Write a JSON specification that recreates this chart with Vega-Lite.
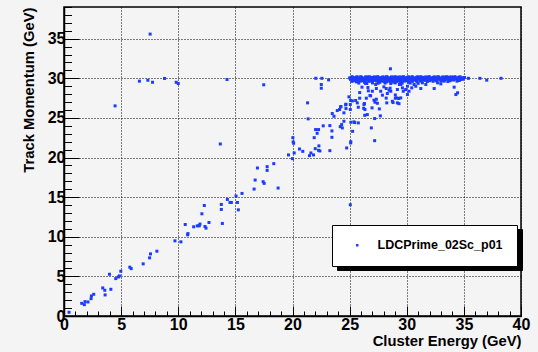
{
"$schema": "https://vega.github.io/schema/vega-lite/v6.json",
"width": 457, "height": 309,
"autosize": "none",
"padding": {"left": 64, "top": 7, "right": 17, "bottom": 36},
"background": "#f4f4f4",
"config": {"view": {"stroke": "black", "strokeWidth": 1.5, "fill": null}, "font": "Liberation Sans"},
"data": {"values": [
{"E":0.44,"P":0.47},{"E":1.55,"P":1.6},{"E":1.78,"P":1.43},{"E":1.84,"P":1.81},{"E":2.1,"P":1.77},{"E":2.37,"P":2.19},{"E":2.4,"P":2.53},{"E":2.6,"P":2.74},{"E":3.39,"P":3.54},{"E":3.57,"P":3.25},{"E":3.6,"P":2.66},{"E":3.98,"P":5.27},{"E":4.1,"P":3.37},{"E":4.53,"P":4.72},{"E":4.77,"P":4.93},{"E":4.85,"P":5.06},{"E":4.97,"P":5.65},{"E":5.76,"P":6.16},{"E":5.88,"P":5.98},{"E":6.93,"P":6.58},{"E":7.49,"P":7.34},{"E":7.57,"P":7.84},{"E":8.13,"P":8.18},{"E":9.71,"P":9.49},{"E":10.23,"P":9.36},{"E":10.61,"P":11.55},{"E":10.82,"P":10.25},{"E":10.85,"P":10.4},{"E":11.35,"P":11.26},{"E":11.67,"P":11.38},{"E":11.84,"P":11.38},{"E":11.9,"P":11.6},{"E":12.07,"P":12.9},{"E":12.28,"P":13.95},{"E":12.34,"P":11.3},{"E":12.43,"P":11.09},{"E":12.69,"P":11.8},{"E":13.77,"P":14.08},{"E":13.77,"P":13.45},{"E":13.86,"P":11.68},{"E":14.3,"P":14.71},{"E":14.53,"P":14.33},{"E":14.65,"P":14.33},{"E":15.06,"P":15.14},{"E":15.18,"P":14.33},{"E":15.26,"P":13.4},{"E":15.58,"P":15.47},{"E":13.68,"P":21.71},
{"E":16.64,"P":16.02},{"E":16.73,"P":17.16},{"E":16.93,"P":18.68},{"E":17.43,"P":16.95},{"E":17.52,"P":16.74},{"E":17.78,"P":18.85},{"E":17.78,"P":18.38},{"E":18.36,"P":19.23},{"E":18.74,"P":16.15},{"E":19.65,"P":20.33},{"E":20.03,"P":22.51},{"E":20.06,"P":21.97},{"E":20.0,"P":19.86},{"E":20.1,"P":21.8},{"E":20.15,"P":20.58},{"E":20.61,"P":21.08},{"E":20.9,"P":20.78},{"E":21.32,"P":26.9},{"E":21.37,"P":24.88},{"E":21.49,"P":20.24},{"E":21.61,"P":20.58},{"E":21.84,"P":20.33},{"E":21.9,"P":22.51},{"E":21.99,"P":21.12},{"E":22.02,"P":23.53},{"E":22.16,"P":23.06},{"E":22.28,"P":23.53},{"E":22.28,"P":20.91},{"E":22.31,"P":21.47},{"E":22.4,"P":20.83},{"E":22.69,"P":24.0},{"E":23.27,"P":24.03},{"E":23.27,"P":20.87},
{"E":6.6,"P":29.64},{"E":7.34,"P":29.76},{"E":7.75,"P":29.5},{"E":8.8,"P":29.98},{"E":9.82,"P":29.5},{"E":10.0,"P":29.34},{"E":14.27,"P":29.85},{"E":17.48,"P":29.18},{"E":7.54,"P":35.58},{"E":4.47,"P":26.52},
{"E":22.04,"P":30.0},{"E":22.57,"P":30.0},{"E":23.16,"P":29.8},{"E":22.52,"P":29.22},{"E":22.52,"P":28.75},
{"E":23.45,"P":23.36},{"E":23.45,"P":22.55},{"E":23.48,"P":25.55},{"E":23.63,"P":25.21},{"E":23.92,"P":25.93},{"E":24.21,"P":26.4},{"E":24.18,"P":23.9},{"E":24.3,"P":24.16},{"E":24.36,"P":23.74},{"E":24.5,"P":25.64},{"E":24.65,"P":26.65},{"E":24.68,"P":26.18},{"E":24.5,"P":24.58},{"E":24.74,"P":21.21},{"E":24.94,"P":27.66},{"E":25.09,"P":27.2},{"E":25.06,"P":26.06},{"E":25.06,"P":26.69},{"E":25.09,"P":21.84},{"E":25.1,"P":22.0},{"E":25.11,"P":24.45},{"E":25.26,"P":23.31},{"E":25.38,"P":24.5},{"E":25.53,"P":27.2},{"E":25.67,"P":26.9},{"E":25.76,"P":26.35},{"E":25.76,"P":24.37},{"E":25.88,"P":28.2},{"E":25.88,"P":27.49},{"E":26.08,"P":28.88},{"E":26.26,"P":26.69},{"E":26.23,"P":26.22},{"E":26.32,"P":25.33},{"E":26.55,"P":25.42},{"E":26.5,"P":29.35},{"E":26.64,"P":28.42},{"E":26.84,"P":27.79},{"E":26.9,"P":23.74},{"E":26.99,"P":28.37},{"E":27.13,"P":27.24},{"E":27.22,"P":26.98},{"E":27.34,"P":27.36},{"E":27.28,"P":29.22},{"E":27.34,"P":28.71},{"E":27.19,"P":22.13},{"E":27.43,"P":26.85},{"E":27.6,"P":26.14},{"E":27.69,"P":25.26},{"E":27.72,"P":28.37},{"E":27.87,"P":27.87},{"E":28.0,"P":28.92},{"E":28.2,"P":28.71},{"E":28.2,"P":27.5},{"E":28.25,"P":26.9},{"E":28.3,"P":28.08},{"E":28.45,"P":28.5},{"E":28.54,"P":28.75},{"E":28.6,"P":28.37},{"E":28.57,"P":31.2},{"E":28.8,"P":26.94},{"E":29.0,"P":27.49},{"E":29.3,"P":27.45},{"E":29.0,"P":27.9},{"E":29.18,"P":28.59},{"E":29.36,"P":29.22},{"E":29.32,"P":26.8},
{"E":24.12,"P":26.06},{"E":24.24,"P":26.43},{"E":24.68,"P":26.73},{"E":25.24,"P":27.15},{"E":25.44,"P":24.41},{"E":26.6,"P":28.84},{"E":26.78,"P":27.83},{"E":27.19,"P":24.92},{"E":26.96,"P":26.27},{"E":26.29,"P":26.82},{"E":26.46,"P":27.49},{"E":26.34,"P":26.06},
{"E":25.06,"P":14.04},
{"E":29.47,"P":29.22},{"E":29.62,"P":28.8},{"E":29.7,"P":28.37},{"E":29.9,"P":28.58},{"E":30.06,"P":29.0},{"E":30.2,"P":28.37},{"E":30.44,"P":28.8},{"E":30.64,"P":29.22},{"E":30.79,"P":29.0},{"E":31.23,"P":28.71},{"E":31.37,"P":29.43},{"E":31.67,"P":29.22},{"E":32.4,"P":28.71},{"E":32.7,"P":29.43},{"E":32.98,"P":29.3},{"E":33.27,"P":29.64},{"E":34.15,"P":28.88},{"E":34.3,"P":27.95},{"E":34.45,"P":28.17},{"E":29.12,"P":27.53},{"E":29.47,"P":27.53},{"E":30.06,"P":27.95},{"E":29.18,"P":26.9},{"E":28.74,"P":27.1},{"E":35.4,"P":30.0},{"E":36.4,"P":30.0},{"E":37.0,"P":29.77},{"E":38.25,"P":30.0},
{"E":25.0,"P":30.05},{"E":25.15,"P":30.12},{"E":25.3,"P":29.98},{"E":25.45,"P":30.08},{"E":25.6,"P":30.15},{"E":25.75,"P":30.02},{"E":25.9,"P":30.05},{"E":26.05,"P":30.12},{"E":26.2,"P":29.98},{"E":26.35,"P":30.08},{"E":26.5,"P":30.15},{"E":26.65,"P":30.02},{"E":26.8,"P":30.05},{"E":26.95,"P":30.12},{"E":27.1,"P":29.98},{"E":27.25,"P":30.08},{"E":27.4,"P":30.15},{"E":27.55,"P":30.02},{"E":27.7,"P":30.05},{"E":27.85,"P":30.12},{"E":28.0,"P":29.98},{"E":28.15,"P":30.08},{"E":28.3,"P":30.15},{"E":28.45,"P":30.02},{"E":28.6,"P":30.05},{"E":28.75,"P":30.12},{"E":28.9,"P":29.98},{"E":29.05,"P":30.08},{"E":29.2,"P":30.15},{"E":29.35,"P":30.02},{"E":29.5,"P":30.05},{"E":29.65,"P":30.12},{"E":29.8,"P":29.98},{"E":29.95,"P":30.08},{"E":30.1,"P":30.15},{"E":30.25,"P":30.02},{"E":30.4,"P":30.05},{"E":30.55,"P":30.12},{"E":30.7,"P":29.98},{"E":30.85,"P":30.08},{"E":31.0,"P":30.15},{"E":31.15,"P":30.02},{"E":31.3,"P":30.05},{"E":31.45,"P":30.12},{"E":31.6,"P":29.98},{"E":31.75,"P":30.08},{"E":31.9,"P":30.15},{"E":32.05,"P":30.02},{"E":32.2,"P":30.05},{"E":32.35,"P":30.12},{"E":32.5,"P":29.98},{"E":32.65,"P":30.08},{"E":32.8,"P":30.15},{"E":32.95,"P":30.02},{"E":33.1,"P":30.05},{"E":33.25,"P":30.12},{"E":33.4,"P":29.98},{"E":33.55,"P":30.08},{"E":33.7,"P":30.15},{"E":33.85,"P":30.02},{"E":34.0,"P":30.05},{"E":34.15,"P":30.12},{"E":34.3,"P":29.98},{"E":34.45,"P":30.08},{"E":34.6,"P":30.15},{"E":34.75,"P":30.02},{"E":34.9,"P":30.05},{"E":35.05,"P":30.1},
{"E":25.07,"P":29.95},{"E":25.22,"P":30.2},{"E":25.37,"P":30.0},{"E":25.52,"P":29.92},{"E":25.67,"P":30.18},{"E":25.82,"P":29.95},{"E":25.97,"P":30.2},{"E":26.12,"P":30.0},{"E":26.27,"P":29.92},{"E":26.42,"P":30.18},{"E":26.57,"P":29.95},{"E":26.72,"P":30.2},{"E":26.87,"P":30.0},{"E":27.02,"P":29.92},{"E":27.17,"P":30.18},{"E":27.32,"P":29.95},{"E":27.47,"P":30.2},{"E":27.62,"P":30.0},{"E":27.77,"P":29.92},{"E":27.92,"P":30.18},{"E":28.07,"P":29.95},{"E":28.22,"P":30.2},{"E":28.37,"P":30.0},{"E":28.52,"P":29.92},{"E":28.67,"P":30.18},{"E":28.82,"P":29.95},{"E":28.97,"P":30.2},{"E":29.12,"P":30.0},{"E":29.27,"P":29.92},{"E":29.42,"P":30.18},{"E":29.57,"P":29.95},{"E":29.72,"P":30.2},{"E":29.87,"P":30.0},{"E":30.02,"P":29.92},{"E":30.17,"P":30.18},{"E":30.32,"P":29.95},{"E":30.47,"P":30.2},{"E":30.62,"P":30.0},{"E":30.77,"P":29.92},{"E":30.92,"P":30.18},{"E":31.07,"P":29.95},{"E":31.22,"P":30.2},{"E":31.37,"P":30.0},{"E":31.52,"P":29.92},{"E":31.67,"P":30.18},{"E":31.82,"P":29.95},{"E":31.97,"P":30.2},{"E":32.12,"P":30.0},{"E":32.27,"P":29.92},{"E":32.42,"P":30.18},{"E":32.57,"P":29.95},{"E":32.72,"P":30.2},{"E":32.87,"P":30.0},{"E":33.02,"P":29.92},{"E":33.17,"P":30.18},{"E":33.32,"P":29.95},{"E":33.47,"P":30.2},{"E":33.62,"P":30.0},{"E":33.77,"P":29.92},{"E":33.92,"P":30.18},{"E":34.07,"P":29.95},{"E":34.22,"P":30.2},{"E":34.37,"P":30.0},{"E":34.52,"P":29.92},{"E":34.67,"P":30.18},{"E":34.82,"P":29.95},{"E":34.97,"P":30.0},
{"E":25.1,"P":29.85},{"E":25.3,"P":29.78},{"E":25.5,"P":29.9},{"E":25.7,"P":29.82},{"E":25.9,"P":29.85},{"E":26.1,"P":29.78},{"E":26.3,"P":29.9},{"E":26.5,"P":29.82},{"E":26.7,"P":29.85},{"E":26.9,"P":29.78},{"E":27.1,"P":29.9},{"E":27.3,"P":29.82},{"E":27.5,"P":29.85},{"E":27.7,"P":29.78},{"E":27.9,"P":29.9},{"E":28.1,"P":29.82},{"E":28.3,"P":29.85},{"E":28.5,"P":29.78},{"E":28.7,"P":29.9},{"E":28.9,"P":29.82},{"E":29.1,"P":29.85},{"E":29.3,"P":29.78},{"E":29.5,"P":29.9},{"E":29.7,"P":29.82},{"E":29.9,"P":29.85},{"E":30.1,"P":29.78},{"E":30.3,"P":29.9},{"E":30.5,"P":29.82},{"E":30.7,"P":29.85},{"E":30.9,"P":29.78},{"E":31.1,"P":29.9},{"E":31.3,"P":29.82},{"E":31.5,"P":29.85},{"E":31.7,"P":29.78},{"E":31.9,"P":29.9},{"E":32.1,"P":29.82},{"E":32.3,"P":29.85},{"E":32.5,"P":29.78},{"E":32.7,"P":29.9},{"E":32.9,"P":29.82},{"E":33.1,"P":29.85},{"E":33.3,"P":29.78},{"E":33.5,"P":29.9},{"E":33.7,"P":29.82},{"E":33.9,"P":29.85},{"E":34.1,"P":29.78},{"E":34.3,"P":29.9},{"E":34.5,"P":29.82},{"E":34.7,"P":29.85},{"E":34.9,"P":29.88},
{"E":25.2,"P":29.7},{"E":25.45,"P":29.68},{"E":25.7,"P":29.74},{"E":25.95,"P":29.7},{"E":26.2,"P":29.68},{"E":26.45,"P":29.74},{"E":26.7,"P":29.7},{"E":26.95,"P":29.68},{"E":27.2,"P":29.74},{"E":27.45,"P":29.7},{"E":27.7,"P":29.68},{"E":27.95,"P":29.74},{"E":28.2,"P":29.7},{"E":28.45,"P":29.68},{"E":28.7,"P":29.74},{"E":28.95,"P":29.7},{"E":29.2,"P":29.68},{"E":29.45,"P":29.74},{"E":29.7,"P":29.7},{"E":29.95,"P":29.68},{"E":30.4,"P":29.74},{"E":30.8,"P":29.7},{"E":31.2,"P":29.68},{"E":31.6,"P":29.74},{"E":32.0,"P":29.7},{"E":32.6,"P":29.68},{"E":33.2,"P":29.74},{"E":33.8,"P":29.7},{"E":34.6,"P":29.72},
{"E":25.2,"P":29.62},{"E":25.6,"P":29.55},{"E":25.95,"P":29.66},{"E":26.3,"P":29.5},{"E":26.7,"P":29.62},{"E":27.0,"P":29.55},{"E":27.35,"P":29.66},{"E":27.65,"P":29.5},{"E":27.95,"P":29.62},{"E":28.25,"P":29.55},{"E":28.55,"P":29.66},{"E":28.85,"P":29.5},{"E":29.15,"P":29.62},{"E":29.45,"P":29.55},{"E":29.8,"P":29.66},{"E":30.15,"P":29.5},{"E":30.5,"P":29.62},{"E":30.9,"P":29.55},{"E":31.3,"P":29.66},{"E":31.8,"P":29.6},{"E":32.3,"P":29.62},{"E":33.0,"P":29.66},{"E":33.6,"P":29.6},{"E":34.4,"P":29.64},
{"E":25.8,"P":29.4},{"E":26.4,"P":29.35},{"E":27.0,"P":29.42},{"E":27.5,"P":29.38},{"E":28.1,"P":29.4},{"E":28.6,"P":29.35},{"E":29.0,"P":29.42},{"E":29.6,"P":29.38},{"E":30.3,"P":29.4},{"E":31.0,"P":29.36}
]},
"layer": [
{"mark": {"type": "point", "opacity": 0},
 "encoding": {
  "x": {"field": "E", "type": "quantitative", "scale": {"domain": [0, 40], "nice": false, "zero": false},
   "axis": {"orient": "bottom", "values": [0,1,2,3,4,5,6,7,8,9,10,11,12,13,14,15,16,17,18,19,20,21,22,23,24,25,26,27,28,29,30,31,32,33,34,35,36,37,38,39,40], "tickSize": -5, "tickColor": "black", "tickWidth": 1, "labels": false, "grid": false, "domain": false, "title": null}},
  "y": {"field": "P", "type": "quantitative", "scale": {"domain": [0, 39], "nice": false, "zero": false},
   "axis": {"orient": "left", "values": [0,1,2,3,4,5,6,7,8,9,10,11,12,13,14,15,16,17,18,19,20,21,22,23,24,25,26,27,28,29,30,31,32,33,34,35,36,37,38,39], "tickSize": -7.5, "tickColor": "black", "tickWidth": 1, "labels": false, "grid": false, "domain": false, "title": null}}
 }},
{"mark": {"type": "point", "filled": true, "opacity": 1, "size": 9},
 "encoding": {
  "x": {"field": "E", "type": "quantitative", "scale": {"domain": [0, 40], "nice": false, "zero": false},
   "axis": {"orient": "bottom", "values": [0,5,10,15,20,25,30,35,40], "tickSize": -10, "tickColor": "black", "tickWidth": 1, "domainColor": "black", "domainWidth": 1.5, "grid": true, "gridColor": "black", "gridDash": [1, 2], "gridWidth": 1, "labelFont": "Liberation Sans", "labelFontWeight": "bold", "labelFontSize": 16, "labelColor": "black", "labelPadding": 10, "labelFlush": false, "labelOverlap": false, "title": "Cluster Energy (GeV)", "titleFont": "Liberation Sans", "titleFontSize": 14.8, "titleFontWeight": "bold", "titleColor": "black", "titleAnchor": "end", "titleAlign": "right", "titleX": 457, "titleY": 29, "titleBaseline": "alphabetic"}},
  "y": {"field": "P", "type": "quantitative", "scale": {"domain": [0, 39], "nice": false, "zero": false},
   "axis": {"orient": "left", "values": [0,5,10,15,20,25,30,35], "tickSize": -15, "tickColor": "black", "tickWidth": 1, "domainColor": "black", "domainWidth": 1.5, "grid": true, "gridColor": "black", "gridDash": [1, 2], "gridWidth": 1, "labelFont": "Liberation Sans", "labelFontWeight": "bold", "labelFontSize": 16, "labelColor": "black", "labelPadding": 14, "labelFlush": false, "labelOverlap": false, "title": "Track Momentum (GeV)", "titleFont": "Liberation Sans", "titleFontSize": 14.8, "titleFontWeight": "bold", "titleColor": "black", "titleAnchor": "end", "titleAlign": "right", "titleAngle": -90, "titleX": -31, "titleY": 0, "titleBaseline": "alphabetic"}},
  "color": {"datum": "LDCPrime_02Sc_p01", "scale": {"range": ["#1b3bff"]},
   "legend": {"orient": "none", "legendX": 268, "legendY": 218, "title": null, "fillColor": "white", "strokeColor": "black", "padding": 14, "symbolType": "square", "symbolSize": 6, "symbolOffset": 5, "labelFont": "Liberation Sans", "labelFontWeight": "bold", "labelFontSize": 12.5, "labelColor": "black", "labelOffset": 14, "zindex": 6}},
  "shape": {"datum": "shadow", "scale": {"range": ["square"]},
   "legend": {"orient": "none", "legendX": 273, "legendY": 222, "title": null, "fillColor": "black", "strokeColor": "black", "padding": 14, "symbolType": "square", "symbolSize": 6, "symbolOffset": 5, "symbolFillColor": "black", "symbolStrokeColor": "black", "labelExpr": "'LDCPrime_02Sc_p01'", "labelFont": "Liberation Sans", "labelFontWeight": "bold", "labelFontSize": 12.5, "labelColor": "black", "labelOffset": 14, "zindex": 5}}
 }}
],
"resolve": {"axis": {"x": "independent", "y": "independent"}}
}
